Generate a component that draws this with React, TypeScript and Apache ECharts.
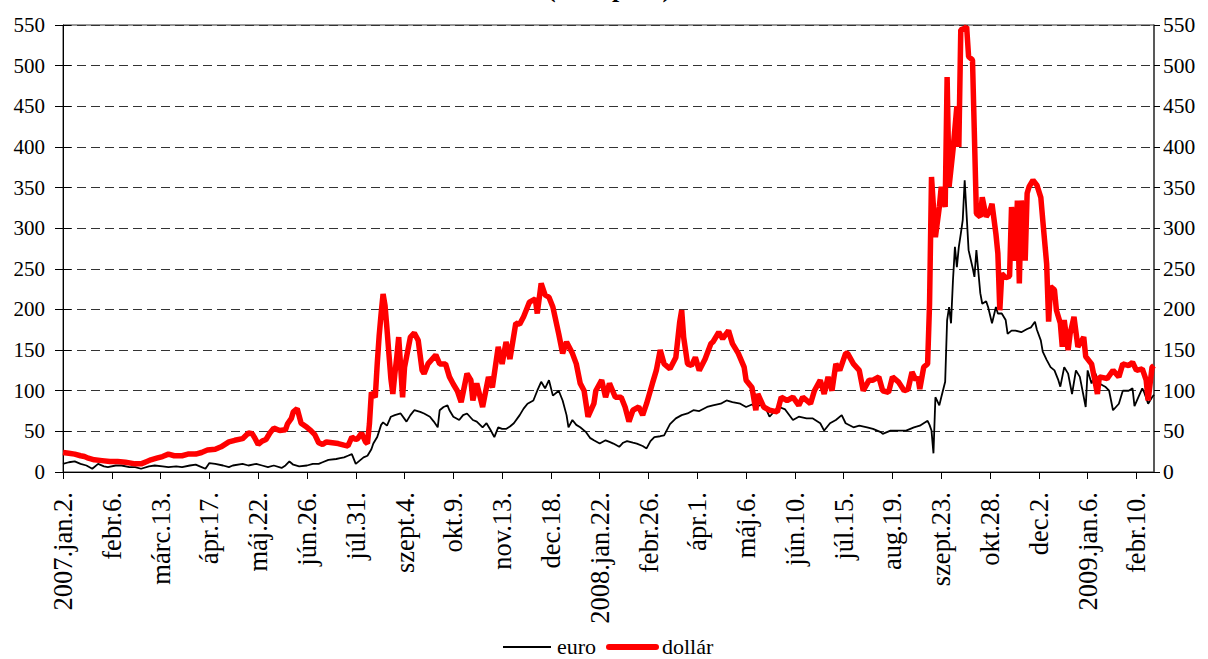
import React, { useEffect, useRef } from 'react';
import * as echarts from 'echarts';

// x-axis tick labels (every 25th trading day)
const TICK_LABELS = [
  '2007.jan.2.', 'febr.6.', 'márc.13.', 'ápr.17.', 'máj.22.', 'jún.26.', 'júl.31.',
  'szept.4.', 'okt.9.', 'nov.13.', 'dec.18.', '2008.jan.22.', 'febr.26.', 'ápr.1.',
  'máj.6.', 'jún.10.', 'júl.15.', 'aug.19.', 'szept.23.', 'okt.28.', 'dec.2.',
  '2009.jan.6.', 'febr.10.',
];
const TICK_STEP = 25;
const N_DAYS = 560;
const START = Date.UTC(2007, 0, 2);

const SERIES_NAMES = ['euro', 'dollár'];
const SERIES_COLORS = ['#000000', '#ff0000'];
const TITLE = '(bázispont)';

// [trading-day index, basis points]
const EURO: [number, number][] = [
  [0,10],[3,12],[6,13],[9,10],[12,8],[15,4],[18,10],[21,7],[23,6],[27,8],[30,8],[34,6],[37,6],[40,4],
  [44,7],[47,8],[51,7],[54,6],[58,7],[61,6],[65,8],[68,9],[71,6],[73,4],[75,11],[78,10],[82,8],[85,6],
  [87,8],[92,10],[95,8],[99,10],[102,8],[105,6],[108,8],[112,5],[114,8],[116,13],[118,9],[121,7],[125,8],
  [128,10],[131,10],[133,12],[136,15],[140,16],[142,17],[144,18],[146,20],[148,22],[150,10],[152,14],
  [154,18],[156,20],[158,28],[159,35],[161,43],[163,58],[164,61],[166,57],[168,68],[170,70],[173,72],
  [176,62],[178,70],[180,76],[183,74],[185,72],[188,68],[190,62],[192,55],[193,76],[195,80],[197,82],
  [198,76],[200,68],[203,64],[205,70],[207,72],[210,64],[212,62],[215,55],[217,60],[219,52],[221,43],
  [223,55],[225,53],[227,53],[229,56],[231,60],[234,70],[236,78],[238,84],[241,88],[243,100],[245,111],
  [247,103],[249,113],[251,94],[254,100],[256,88],[258,70],[259,55],[261,64],[263,58],[265,55],[268,49],
  [270,42],[272,39],[275,35],[278,39],[280,37],[282,35],[285,31],[287,36],[289,38],[292,36],[294,35],
  [297,32],[299,29],[301,38],[303,43],[306,44],[308,45],[311,59],[314,66],[317,70],[320,72],[323,76],
  [326,75],[330,80],[333,82],[337,84],[340,88],[343,86],[347,84],[350,80],[353,83],[355,80],[359,84],
  [362,68],[365,76],[367,80],[370,77],[374,64],[377,68],[381,66],[384,66],[388,60],[390,51],[393,60],
  [396,64],[399,70],[401,60],[405,55],[408,57],[412,55],[415,53],[419,49],[420,47],[424,51],[429,51],
  [432,51],[436,55],[439,57],[443,63],[444,58],[445,51],[446,23],[447,92],[449,82],[450,92],[452,111],
  [453,187],[454,203],[455,183],[456,236],[457,277],[458,252],[459,277],[460,293],[461,310],[462,359],
  [464,273],[466,252],[467,240],[468,273],[470,220],[471,207],[473,210],[474,203],[476,183],[478,203],
  [479,195],[481,195],[483,187],[484,170],[486,174],[488,174],[491,172],[494,176],[496,178],[498,185],
  [499,175],[501,162],[502,148],[504,138],[506,129],[508,125],[510,113],[511,105],[513,129],[515,121],
  [517,96],[519,125],[521,117],[524,80],[525,125],[527,109],[529,121],[531,109],[534,105],[536,100],
  [538,76],[541,84],[543,100],[546,100],[548,103],[549,81],[551,92],[553,103],[554,98],[556,84],
  [558,92],[559,95],
];

const DOLLAR: [number, number][] = [
  [0,24],[3,23],[6,22],[9,20],[11,19],[13,17],[16,15],[20,14],[24,13],[28,13],[32,12],[37,10],[40,10],
  [43,13],[45,15],[48,17],[51,19],[54,22],[57,20],[61,20],[64,22],[68,22],[71,24],[74,27],[78,28],
  [81,31],[85,37],[88,39],[92,41],[95,48],[97,47],[98,43],[100,34],[102,38],[104,40],[106,48],[108,54],
  [111,51],[114,52],[115,59],[117,66],[118,74],[120,78],[122,60],[125,55],[127,51],[129,46],[131,36],
  [133,34],[135,37],[138,36],[141,35],[144,33],[146,32],[148,43],[150,40],[151,41],[153,48],[155,37],
  [156,35],[157,59],[158,98],[160,92],[161,133],[162,168],[163,195],[164,219],[165,205],[166,176],
  [167,145],[168,115],[169,96],[170,120],[171,141],[172,166],[173,130],[174,92],[175,129],[178,166],
  [180,171],[182,162],[184,125],[185,121],[187,133],[191,144],[193,133],[196,133],[198,117],[200,108],
  [202,100],[204,86],[207,121],[209,113],[210,88],[212,109],[215,80],[218,117],[220,104],[223,154],
  [225,133],[227,160],[229,139],[232,183],[234,182],[236,191],[238,203],[239,209],[242,213],[243,195],
  [245,232],[247,218],[249,215],[251,203],[254,170],[256,146],[258,160],[261,146],[263,133],[265,109],
  [267,100],[269,68],[272,84],[273,100],[276,113],[278,92],[280,109],[283,92],[286,92],[288,80],
  [290,62],[292,76],[295,80],[297,70],[299,84],[302,109],[304,125],[306,150],[308,133],[311,127],
  [314,141],[316,185],[317,199],[318,166],[320,133],[322,131],[324,141],[326,125],[329,139],[332,158],
  [333,160],[336,172],[338,164],[341,174],[343,158],[346,146],[349,129],[350,113],[353,104],[355,76],
  [356,96],[359,80],[362,76],[366,74],[368,92],[371,88],[374,92],[377,82],[379,92],[383,84],[385,100],
  [388,113],[390,96],[392,117],[394,100],[396,133],[398,125],[401,146],[402,146],[405,133],[408,125],
  [410,100],[413,113],[415,113],[418,117],[420,100],[423,98],[425,117],[428,111],[431,100],[433,102],
  [435,123],[437,113],[438,117],[439,102],[441,129],[443,133],[444,207],[445,363],[447,289],[449,326],
  [450,351],[452,326],[453,486],[454,351],[456,396],[458,450],[459,400],[460,544],[462,546],[463,548],
  [464,511],[466,507],[468,318],[470,314],[471,338],[473,314],[475,322],[476,330],[478,293],[479,269],
  [480,199],[481,244],[483,239],[485,241],[486,326],[488,260],[489,334],[490,232],[491,334],[493,260],
  [494,343],[495,351],[497,359],[499,353],[501,338],[502,310],[504,256],[505,185],[506,228],[508,224],
  [509,199],[511,183],[512,154],[513,187],[515,150],[516,170],[518,191],[520,154],[523,166],[524,142],
  [527,133],[529,109],[530,96],[531,117],[535,115],[538,125],[541,117],[543,133],[546,131],[548,135],
  [550,125],[553,127],[555,113],[556,88],[558,129],[559,131],
];

const Y_MIN = 0;
const Y_MAX = 550;
const Y_STEP = 50;

function tradingDays(n: number): string[] {
  const out: string[] = [];
  let t = START;
  while (out.length < n) {
    const d = new Date(t);
    const wd = d.getUTCDay();
    if (wd !== 0 && wd !== 6) out.push(d.toISOString().slice(0, 10));
    t += 86400000;
  }
  return out;
}

const FONT = '"Liberation Serif", "Times New Roman", serif';

export default function App() {
  const ref = useRef<HTMLDivElement>(null);
  useEffect(() => {
    document.body.style.margin = '0';
    const chart = echarts.init(ref.current!, null, { renderer: 'svg' });
    const yCommon = { type: 'value', min: Y_MIN, max: Y_MAX, interval: Y_STEP };
    const legendY = 647;
    const legendFont = `22px ${FONT}`;
    const legendText = (x: number, text: string) => ({
      type: 'text',
      x,
      y: legendY - 0.5,
      style: {
        text,
        font: legendFont,
        fill: '#000',
        textAlign: 'left',
        textVerticalAlign: 'middle',
      },
    });
    chart.setOption({
      animation: false,
      backgroundColor: '#fff',
      graphic: [
        {
          type: 'text',
          x: 609,
          y: -12,
          style: {
            text: TITLE,
            font: `bold 26px ${FONT}`,
            fill: '#000',
            textAlign: 'center',
            textVerticalAlign: 'middle',
          },
        },
        // legend (drawn by hand so that the keys are plain lines)
        {
          type: 'line',
          shape: { x1: 503, y1: legendY, x2: 551, y2: legendY },
          style: { stroke: SERIES_COLORS[0], lineWidth: 2 },
        },
        legendText(557, SERIES_NAMES[0]),
        {
          type: 'line',
          shape: { x1: 609, y1: legendY, x2: 656, y2: legendY },
          style: { stroke: SERIES_COLORS[1], lineWidth: 6, lineCap: 'round' },
        },
        legendText(662, SERIES_NAMES[1]),
      ],
      grid: {
        left: 63,
        right: 54,
        top: 25,
        bottom: 187,
        show: true,
        borderColor: '#333',
        borderWidth: 1,
        backgroundColor: 'transparent',
      },
      xAxis: {
        type: 'category',
        data: tradingDays(N_DAYS),
        boundaryGap: false,
        axisLine: { lineStyle: { color: '#000', width: 1 } },
        axisTick: { interval: TICK_STEP - 1, length: 7, lineStyle: { color: '#000' } },
        axisLabel: {
          interval: TICK_STEP - 1,
          rotate: 90,
          margin: 20,
          fontFamily: FONT,
          fontSize: 26.5,
          color: '#000',
          formatter: (_v: string, idx: number) =>
            idx % TICK_STEP === 0 ? TICK_LABELS[idx / TICK_STEP] ?? '' : '',
        },
        splitLine: { show: false },
      },
      yAxis: [
        {
          ...yCommon,
          position: 'left',
          axisLine: { show: true, lineStyle: { color: '#000', width: 1 } },
          axisTick: { show: true, length: 8, lineStyle: { color: '#000' } },
          axisLabel: { margin: 18, fontFamily: FONT, fontSize: 21, color: '#000' },
          splitLine: { show: true, lineStyle: { color: '#333', width: 1, type: [9, 5] } },
        },
        {
          ...yCommon,
          position: 'right',
          axisLine: { show: true, lineStyle: { color: '#444', width: 1.5 } },
          axisTick: { show: true, length: 6, lineStyle: { color: '#000' } },
          axisLabel: { margin: 9, fontFamily: FONT, fontSize: 21.5, color: '#000' },
          splitLine: { show: false },
        },
        {
          ...yCommon,
          position: 'left',
          axisLine: { show: false },
          axisTick: { show: true, inside: true, length: 8, lineStyle: { color: '#000' } },
          axisLabel: { show: false },
          splitLine: { show: false },
        },
      ],
      series: [
        {
          name: SERIES_NAMES[0],
          type: 'line',
          yAxisIndex: 0,
          data: EURO,
          symbol: 'none',
          showSymbol: false,
          lineStyle: { color: SERIES_COLORS[0], width: 1.8 },
          itemStyle: { color: SERIES_COLORS[0] },
        },
        {
          name: SERIES_NAMES[1],
          type: 'line',
          yAxisIndex: 0,
          data: DOLLAR,
          symbol: 'none',
          showSymbol: false,
          lineStyle: { color: SERIES_COLORS[1], width: 5.5 },
          itemStyle: { color: SERIES_COLORS[1] },
        },
      ],
    });
    return () => chart.dispose();
  }, []);
  return <div ref={ref} style={{ width: 1208, height: 659 }} />;
}
